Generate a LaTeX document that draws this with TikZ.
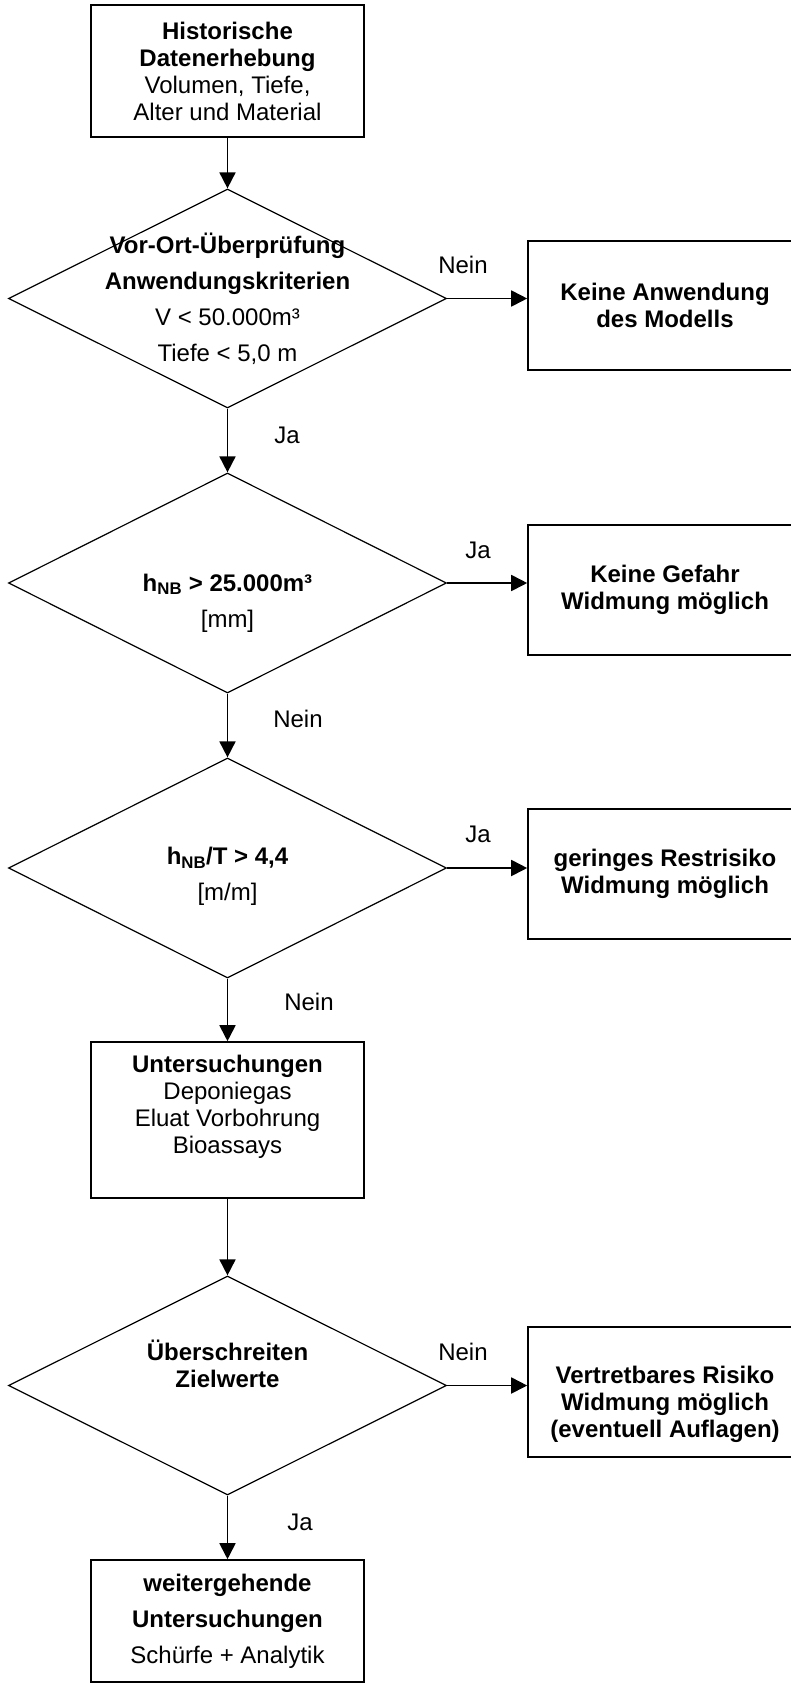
\documentclass[tikz,border=0pt]{standalone}
\usepackage{fontspec}
\setmainfont{Liberation Sans}
\usepackage{tikz}
\usetikzlibrary{shapes.geometric, arrows.meta, positioning}

\begin{document}
\begin{tikzpicture}[
    x=1pt, y=-1pt,
    part/.style={draw, line width=1.6pt, minimum width=273pt, inner sep=0pt, font=\fontsize{24}{27}\selectfont, align=center},
    result/.style={part, minimum width=274pt, minimum height=130pt, font=\fontsize{24}{27}\selectfont\bfseries},
    decision/.style={draw, line width=1.2pt, shape=diamond, minimum width=438pt, minimum height=220pt, inner sep=0pt},
    dtext/.style={font=\fontsize{24}{36}\selectfont, align=center},
    answer/.style={font=\fontsize{24}{27}\selectfont},
    arrow/.style={-{Triangle[length=16pt, width=16pt]}, line width=1.8pt}
]
    \useasboundingbox (0,0) rectangle (791,1684);

    \node[part, minimum height=132pt] (hist) at (227.5,71) {\textbf{Historische}\\\textbf{Datenerhebung}\\Volumen, Tiefe,\\Alter und Material};
    \node[decision, minimum height=219pt, label={[dtext]center:{\textbf{Vor-Ort-Überprüfung}\\\textbf{Anwendungskriterien}\\V < 50.000m³\\Tiefe < 5,0 m}}] (d1) at (227.5,298.5) {};
    \node[decision, label={[dtext, yshift=-20pt]center:{\textbf{h\textsubscript{NB} > 25.000m³}\\{[mm]}}}] (d2) at (227.5,583) {};
    \node[decision, label={[dtext, yshift=-8.5pt]center:{\textbf{h\textsubscript{NB}/T > 4,4}\\{[m/m]}}}] (d3) at (227.5,868) {};
    \node[part, minimum height=156pt, label={[dtext, font=\fontsize{24}{27}\selectfont, yshift=13pt]center:{\textbf{Untersuchungen}\\Deponiegas\\Eluat Vorbohrung\\Bioassays}}] (unters) at (227.5,1120) {};
    \node[decision, minimum height=219pt, label={[dtext, font=\fontsize{24}{27}\selectfont\bfseries, yshift=22pt]center:{Überschreiten\\Zielwerte}}] (d4) at (227.5,1385.5) {};
    \node[part, minimum height=122pt, font=\fontsize{24}{36}\selectfont] (wg) at (227.5,1621) {\textbf{weitergehende}\\\textbf{Untersuchungen}\\Schürfe + Analytik};

    \node[result, minimum height=129pt] (ka) at (665,305.5) {Keine Anwendung\\des Modells};
    \node[result] (kg) at (665,590) {Keine Gefahr\\Widmung möglich};
    \node[result] (gr) at (665,874) {geringes Restrisiko\\Widmung möglich};
    \node[result, label={[dtext, font=\fontsize{24}{27}\selectfont\bfseries, yshift=-12pt]center:{Vertretbares Risiko\\Widmung möglich\\(eventuell Auflagen)}}] (vr) at (665,1392) {};

    \draw[arrow] (hist) -- (d1);
    \draw[arrow] (d1) -- (d2);
    \draw[arrow] (d2) -- (d3);
    \draw[arrow] (d3) -- (unters);
    \draw[arrow] (unters) -- (d4);
    \draw[arrow] (d4) -- (wg);
    \draw[arrow] (d1.east) -- (d1.east -| ka.west);
    \draw[arrow] (d2.east) -- (d2.east -| kg.west);
    \draw[arrow] (d3.east) -- (d3.east -| gr.west);
    \draw[arrow] (d4.east) -- (d4.east -| vr.west);

    \node[answer] (nein1) at (463,265) {Nein};
    \node[answer] (ja1) at (287,435) {Ja};
    \node[answer] (ja2) at (478,550) {Ja};
    \node[answer] (nein2) at (298,719) {Nein};
    \node[answer] (ja3) at (478,834) {Ja};
    \node[answer] (nein3) at (309,1002) {Nein};
    \node[answer] (nein4) at (463,1352) {Nein};
    \node[answer] (ja4) at (300,1522) {Ja};
\end{tikzpicture}
\end{document}
